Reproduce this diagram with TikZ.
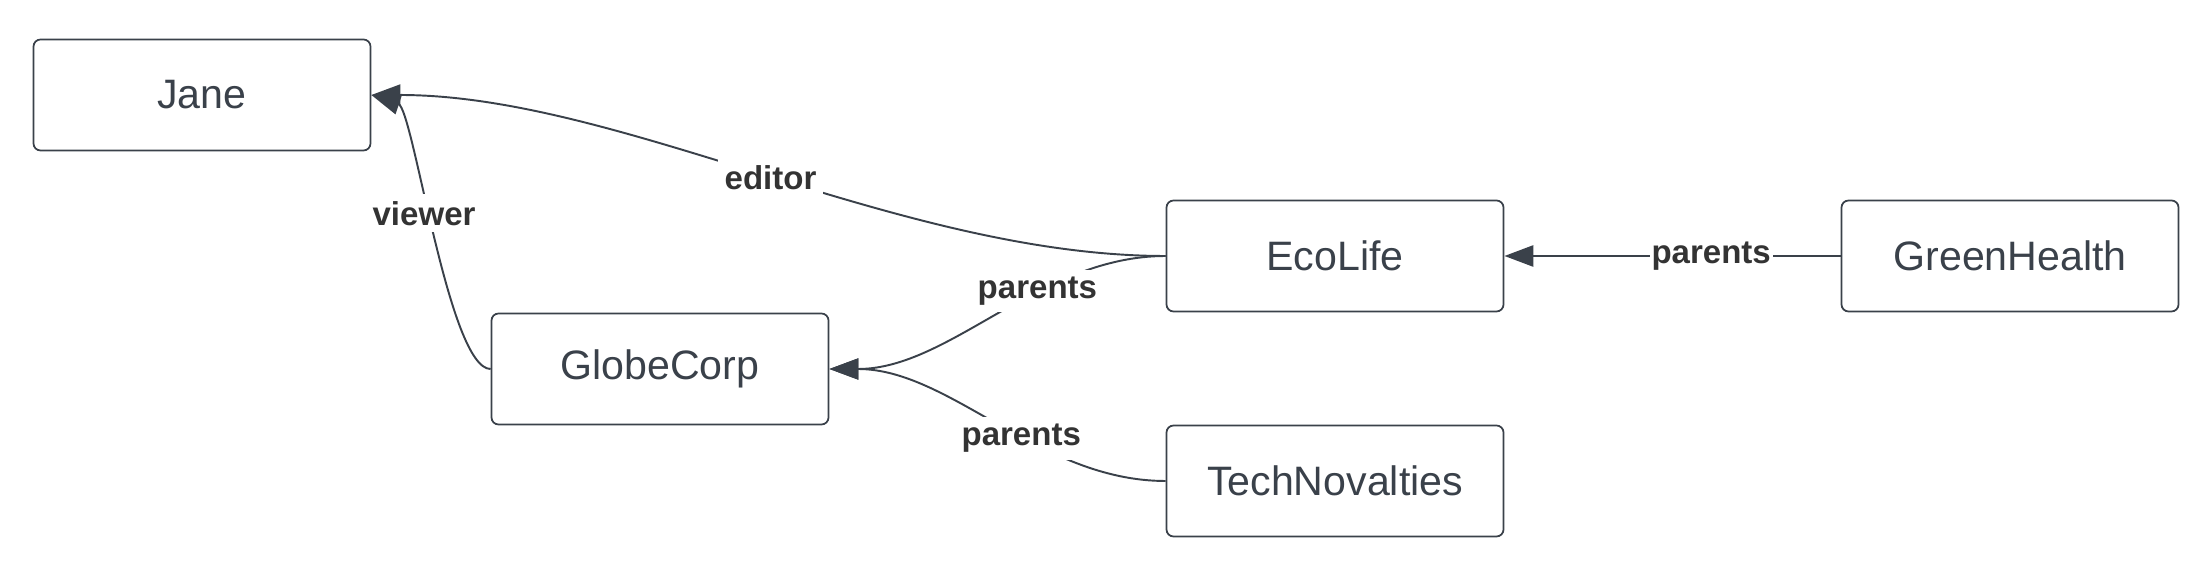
\documentclass[tikz,border=0pt]{standalone}
\usepackage{fontspec}
\setmainfont{Liberation Sans}
\usetikzlibrary{arrows.meta}
\definecolor{inkgray}{RGB}{58,65,74}
\definecolor{labelgray}{RGB}{51,51,51}

\begin{document}
\begin{tikzpicture}[
    entity/.style={draw=inkgray,line width=0.5pt,rounded corners=2pt,
      minimum width=3.37cm,minimum height=1.11cm,inner sep=0pt,
      text=inkgray,font=\fontsize{11.7}{14}\selectfont},
    rel/.style={draw=inkgray,line width=0.55pt,
      -{Triangle[length=2.9mm,width=2.1mm]}},
    lbl/.style={fill=white,inner sep=2pt,text=labelgray,
      font=\fontsize{9.4}{11}\selectfont\bfseries}
  ]
  \useasboundingbox (0,0) rectangle (22.03,5.66);
  % entities
  \node[entity] (jane) at (2.02,4.71) {Jane};
  \node[entity] (globe) at (6.60,1.97) {GlobeCorp};
  \node[entity] (eco) at (13.35,3.10) {EcoLife};
  \node[entity] (techno) at (13.35,0.85) {TechNovalties};
  \node[entity] (green) at (20.10,3.10) {GreenHealth};
  % relations
  \draw[rel] (eco.west) .. controls +(-2.66,0) and +(2.50,0)
    .. node[lbl,pos=0.49] {editor} (jane.east);
  \draw[rel] (globe.west) .. controls +(-0.42,0) and +(0.42,-0.14)
    .. node[lbl,pos=0.56] {viewer} (jane.east);
  \draw[rel] (eco.west) .. controls +(-1.26,0) and +(1.21,0)
    .. node[lbl,pos=0.37] {parents} (globe.east);
  \draw[rel] (techno.west) .. controls +(-1.26,0) and +(1.21,0)
    .. node[lbl,pos=0.42] {parents} (globe.east);
  \draw[rel,line width=0.8pt] (green.west) --
    node[lbl,pos=0.385,inner sep=0.5pt] {parents} (eco.east);
\end{tikzpicture}
\end{document}
